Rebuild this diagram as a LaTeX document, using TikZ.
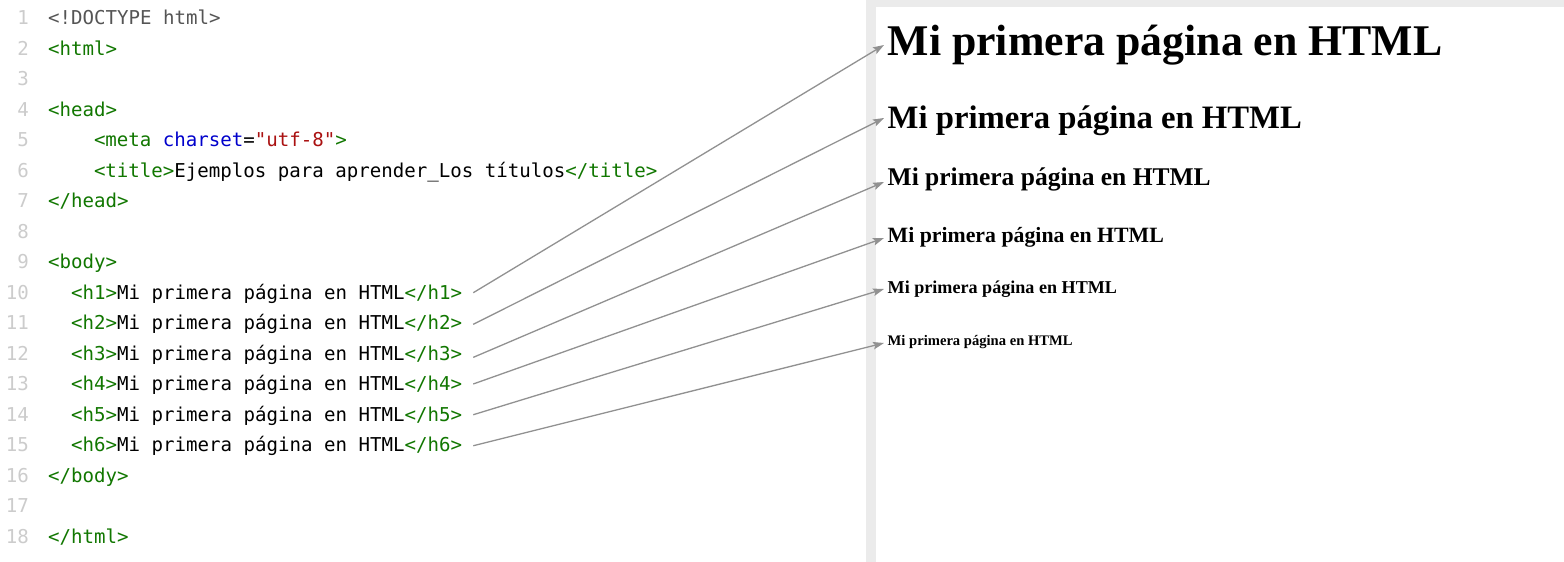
\documentclass[tikz,border=0pt]{standalone}
\usepackage{fontspec}
\setmainfont{Liberation Serif}
\setmonofont{DejaVu Sans Mono}
\usetikzlibrary{arrows.meta}
\definecolor{cmtag}{HTML}{117700}
\definecolor{cmattr}{HTML}{0000CC}
\definecolor{cmstr}{HTML}{AA1111}
\definecolor{cmmeta}{HTML}{555555}
\definecolor{gutter}{HTML}{CCCCCC}
\definecolor{framec}{HTML}{EBEBEB}
\definecolor{linkc}{HTML}{919191}
\newcommand{\tg}[1]{\textcolor{cmtag}{#1}}
\begin{document}
\begin{tikzpicture}[x=1pt,y=-1pt,
  codeline/.style={anchor=base west, inner sep=0pt, font=\ttfamily\fontsize{19.1}{22}\selectfont},
  lnum/.style={anchor=base east, inner sep=0pt, text=gutter, font=\ttfamily\fontsize{19.1}{22}\selectfont},
  heading/.style={anchor=base west, inner sep=0pt, font=\bfseries\fontsize{#1}{#1}\selectfont},
  link/.style={draw=linkc, line width=1.3pt, -{Stealth[length=11pt,width=7.5pt,inset=2pt]}}]
\useasboundingbox (0,0) rectangle (1564,562);
\fill[white] (0,0) rectangle (1564,562);
% browser frame
\fill[framec] (866,0) rectangle (876,562);
\fill[framec] (866,0) rectangle (1564,7);
% line numbers
\foreach \n in {1,...,18}
  \node[lnum] (n\n) at (29,{24.5+(\n-1)*30.53}) {\n};
% code
\node[codeline, text=cmmeta] (l1) at (48,24.5) {<!DOCTYPE html>};
\node[codeline, text=cmtag] (l2) at (48,55.0) {<html>};
\node[codeline, text=cmtag] (l4) at (48,116.1) {<head>};
\node[codeline] (l5) at (93.8,146.6) {\tg{<meta} \textcolor{cmattr}{charset}=\textcolor{cmstr}{"utf-8"}\tg{>}};
\node[codeline] (l6) at (93.8,177.2) {\tg{<title>}Ejemplos para aprender\_Los títulos\tg{</title>}};
\node[codeline, text=cmtag] (l7) at (48,207.7) {</head>};
\node[codeline, text=cmtag] (l9) at (48,268.7) {<body>};
\foreach \i in {1,...,6}
  \node[codeline] (hc\i) at (70.9,{299.3+(\i-1)*30.53}) {\tg{<h\i>}Mi primera página en HTML\tg{</h\i>}};
\node[codeline, text=cmtag] (l16) at (48,482.5) {</body>};
\node[codeline, text=cmtag] (l18) at (48,543.5) {</html>};
% rendered headings
\node[heading=43.8] (hd1) at (887.5,55.5) {Mi primera página en HTML};
\node[heading=32.7] (hd2) at (887.5,128) {Mi primera página en HTML};
\node[heading=25.5] (hd3) at (887.5,185) {Mi primera página en HTML};
\node[heading=21.8] (hd4) at (887.5,242) {Mi primera página en HTML};
\node[heading=18.1] (hd5) at (887.5,293) {Mi primera página en HTML};
\node[heading=14.6] (hd6) at (887.5,345) {Mi primera página en HTML};
% connectors
\foreach \i/\s/\t in {1/6.6/10.5, 2/5.5/10, 3/3.0/3, 4/6.9/4, 5/6.7/4, 6/6.2/2}
  \draw[link] ([shift={(11,-\s)}]hc\i.base east) -- ([shift={(-3.5,-\t)}]hd\i.base west);
\end{tikzpicture}
\end{document}
